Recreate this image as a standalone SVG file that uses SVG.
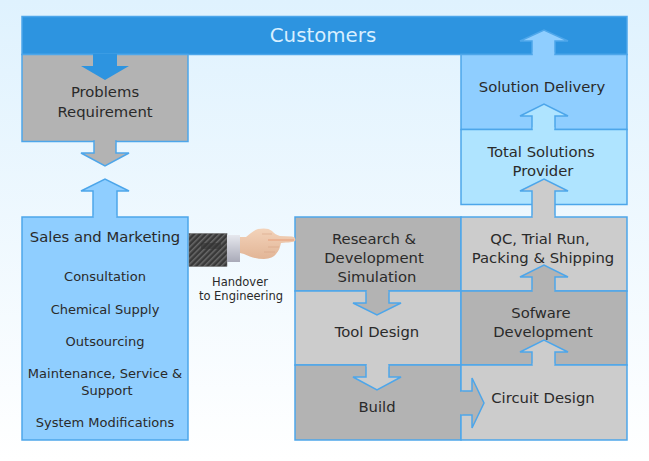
<svg xmlns="http://www.w3.org/2000/svg" width="649" height="461" viewBox="0 0 649 461">
<style>
.b{stroke:#4da6ea;stroke-width:1.5}
.t{font-family:"DejaVu Sans",Verdana,sans-serif;font-size:14.8px;fill:#2a2a2a;text-anchor:middle}
.s{font-size:13px}
.h{font-size:11.5px}
.d{fill:#b3b3b3}.l{fill:#cccccc}.m{fill:#8fceff}.p{fill:#afe4ff}.c{fill:#2d94e0}
</style>
<defs>
<linearGradient id="bg" x1="0" y1="0" x2="0" y2="1"><stop offset="0" stop-color="#dff2fe"/><stop offset="1" stop-color="#ffffff"/></linearGradient>
<linearGradient id="skin" x1="0" y1="0" x2="0" y2="1"><stop offset="0" stop-color="#f3d3ba"/><stop offset="1" stop-color="#e2b596"/></linearGradient>
<linearGradient id="cuff" x1="0" y1="0" x2="0" y2="1"><stop offset="0" stop-color="#e6e8ee"/><stop offset="1" stop-color="#a9aab8"/></linearGradient>
<pattern id="tw" width="4" height="4" patternUnits="userSpaceOnUse" patternTransform="rotate(45)"><rect width="4" height="4" fill="#383838"/><rect width="1.500" height="4" fill="#6a6a6a"/></pattern>
</defs>
<rect width="649" height="461" fill="url(#bg)"/>
<g id="customers"><rect x="22" y="16.500" width="605" height="38" class="b c"/><text x="323" y="42" class="t" style="font-size:19.800px;fill:#d8efff">Customers</text></g>
<g id="problems"><rect x="22" y="54.500" width="166" height="87" class="b d"/><text x="105" y="97" class="t">Problems</text><text x="105" y="117" class="t">Requirement</text></g>
<g id="sales"><rect x="22" y="217" width="166" height="223" class="b m"/>
<text x="105" y="242" class="t">Sales and Marketing</text>
<text x="105" y="281" class="t s">Consultation</text>
<text x="105" y="314" class="t s">Chemical Supply</text>
<text x="105" y="346" class="t s">Outsourcing</text>
<text x="105" y="378" class="t s">Maintenance, Service &amp;</text>
<text x="107" y="395" class="t s">Support</text>
<text x="105" y="427" class="t s">System Modifications</text></g>
<g id="delivery"><rect x="461" y="54.500" width="166" height="75" class="b m"/><text x="542" y="92" class="t">Solution Delivery</text></g>
<g id="provider"><rect x="461" y="129.500" width="166" height="75" class="b p"/><text x="541" y="157" class="t">Total Solutions</text><text x="543" y="176" class="t">Provider</text></g>
<g id="research"><rect x="295" y="217" width="166" height="74" class="b d"/><text x="374" y="244" class="t">Research &amp;</text><text x="374" y="263" class="t">Development</text><text x="377" y="282" class="t">Simulation</text></g>
<g id="qc"><rect x="461" y="217" width="166" height="74" class="b l"/><text x="540" y="244" class="t">QC, Trial Run,</text><text x="543" y="263" class="t">Packing &amp; Shipping</text></g>
<g id="tool"><rect x="295" y="291" width="166" height="74" class="b l"/><text x="377" y="337" class="t">Tool Design</text></g>
<g id="software"><rect x="461" y="291" width="166" height="74" class="b d"/><text x="541" y="318" class="t">Sofware</text><text x="543" y="337" class="t">Development</text></g>
<g id="build"><rect x="295" y="365" width="166" height="75" class="b d"/><text x="377" y="412" class="t">Build</text></g>
<g id="circuit"><rect x="461" y="365" width="166" height="75" class="b l"/><text x="543" y="403" class="t">Circuit Design</text></g>
<g id="connectors">
<path class="c" d="M93 54H117V66H129L105 80L81 66H93Z"/>
<path class="b d" d="M94 141H116V153H129L105 166L81 153H94Z"/>
<rect x="94.800" y="140" width="20.400" height="3" class="d"/>
<path class="b m" d="M93 217V191H81L105 179L129 191H117V217"/>
<rect x="93.800" y="215" width="22.400" height="4" class="m"/>
<path class="b m" d="M532 54V41H520L544 30L568 41H555V54"/>
<rect x="532.800" y="52" width="21.400" height="4" class="m"/>
<path class="b p" d="M532 129V116H520L544 104L568 116H555V129"/>
<rect x="532.800" y="127" width="21.400" height="4" class="p"/>
<path class="b l" d="M532 217V191H520L544 179L568 191H555V217"/>
<rect x="532.800" y="215" width="21.400" height="4" class="l"/>
<path class="b d" d="M532 291V277H520L544 265L568 277H555V291"/>
<rect x="532.800" y="289" width="21.400" height="4" class="d"/>
<path class="b l" d="M532 365V352H520L544 340L568 352H555V365"/>
<rect x="532.800" y="363" width="21.400" height="4" class="l"/>
<path class="b d" d="M366 291V303H353L377 315L401 303H389V291"/>
<rect x="366.800" y="289" width="21.400" height="4" class="d"/>
<path class="b l" d="M366 365V377H353L377 390L401 377H389V365"/>
<rect x="366.800" y="363" width="21.400" height="4" class="l"/>
<path class="b d" d="M461 391H472V378L484 403L472 428V415H461"/>
<rect x="459" y="391.800" width="4" height="22.400" class="d"/>
</g>
<g id="hand">
<rect x="189" y="233.500" width="38" height="33" fill="url(#tw)" stroke="#666" stroke-width=".5"/>
<rect x="201" y="243" width="20" height="6" fill="#333" opacity=".6"/>
<rect x="227" y="235" width="13" height="27" fill="url(#cuff)"/>
<path d="M240 237L246 237C250 234 254 230 258 229C263 228 269 228 272 231C274 233 276 235 280 236L292 236.500C295 237 296 239 295 241C294 242 288 242.500 281 243C280 247 279 251 276 254C274 257 270 258.500 264 259C257 259 250 257 244 254L240 253Z" fill="url(#skin)"/>
<path d="M268 240H294" stroke="#e79a73" stroke-width="1.500" opacity=".6"/>
<path d="M262 234H272M268 247H279M264 252H275" stroke="#d59f80" stroke-width="1" opacity=".5"/>
</g>
<g id="handover"><text x="240" y="286" class="t h">Handover</text><text x="241" y="300" class="t h">to Engineering</text></g>
</svg>
